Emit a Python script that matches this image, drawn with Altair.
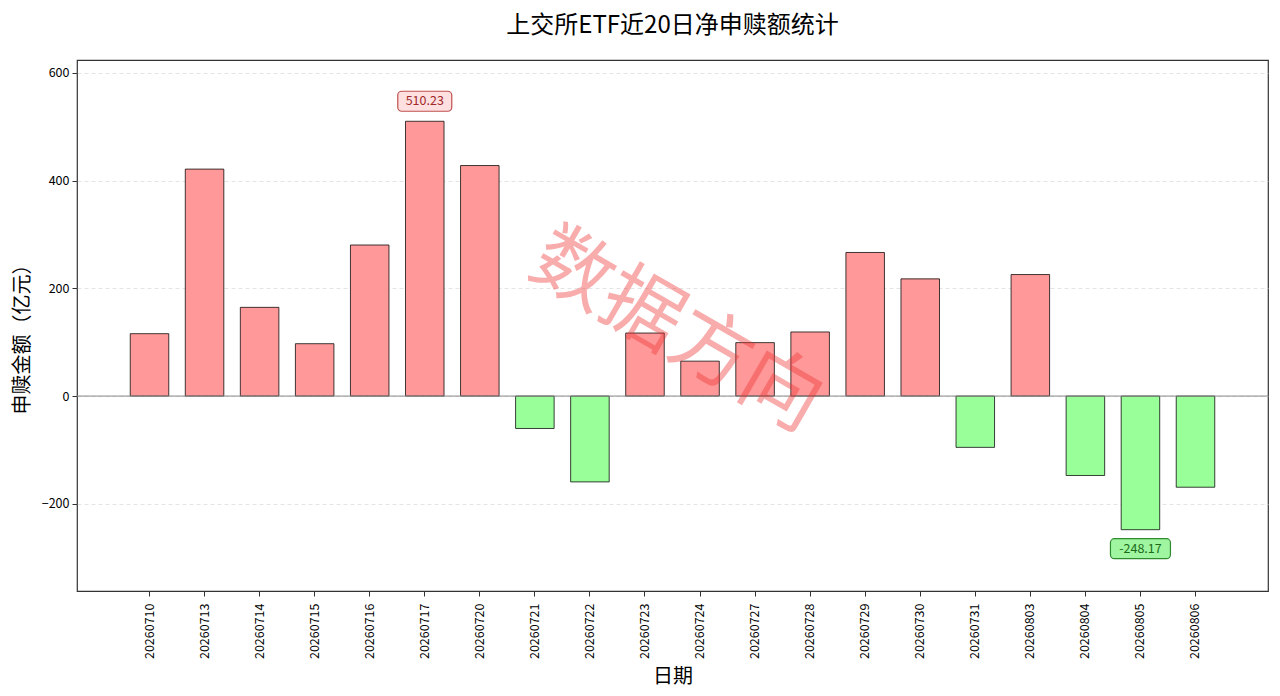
import altair as alt
import pandas as pd

dates = ["20260710", "20260713", "20260714", "20260715", "20260716", "20260717",
         "20260720", "20260721", "20260722", "20260723", "20260724", "20260727",
         "20260728", "20260729", "20260730", "20260731", "20260803", "20260804",
         "20260805", "20260806"]
values = [115.8, 421.4, 164.7, 97.2, 280.5, 510.23, 428.0, -60.2, -159.4, 117.0,
          64.8, 99.2, 119.0, 266.6, 217.6, -95.3, 225.6, -147.5, -248.17, -169.3]

df = pd.DataFrame({"date": dates, "value": values})
vmax = max(values)
vmin = min(values)
ann_max = df[df["value"] == vmax].assign(label=lambda d: d["value"].map(lambda v: f"{v:.2f}"))
ann_min = df[df["value"] == vmin].assign(label=lambda d: d["value"].map(lambda v: f"{v:.2f}"))

FONT = "Noto Sans CJK SC"

x_enc = alt.X("date:N", sort=dates, title="日期",
              scale=alt.Scale(paddingInner=0.3, paddingOuter=0.967),
              axis=alt.Axis(labelAngle=270, labelFontSize=12.5, labelColor="#000",
                            titleFontSize=20, titleFontWeight="normal", titleColor="#000",
                            titlePadding=8, tickColor="#333", tickSize=5, grid=False,
                            domain=False, labelPadding=7))
y_scale = alt.Scale(domain=[-362, 624], nice=False, zero=False)
y_enc = alt.Y("value:Q", scale=y_scale, title="申赎金额（亿元）",
              axis=alt.Axis(values=[-200, 0, 200, 400, 600], labelFontSize=12.5,
                            labelColor="#000", titleFontSize=20, titleFontWeight="normal",
                            titleColor="#000", titleX=-45, titleY=274, titleAlign="center",
                            titleBaseline="bottom", tickColor="#333", tickSize=5,
                            grid=True, gridDash=[4, 3], gridColor="#dddddd",
                            gridWidth=0.8, domain=False, labelPadding=3))

bars = alt.Chart(df).mark_bar(stroke="#000", strokeOpacity=0.75, strokeWidth=1).encode(
    x=x_enc,
    y=y_enc,
    color=alt.condition("datum.value >= 0", alt.value("#ff9999"), alt.value("#99ff99")),
)

zero = alt.Chart(pd.DataFrame({"z": [0]})).mark_rule(color="#888888", strokeWidth=1).encode(
    y=alt.Y("z:Q", scale=y_scale)
)

box_max = alt.Chart(ann_max).mark_bar(
    width=54, cornerRadius=4, yOffset=-30, y2Offset=-10,
    fill="#ffe0e0", stroke="#c05050", strokeWidth=1.2
).encode(x=alt.X("date:N", sort=dates), y=alt.Y("value:Q", scale=y_scale), y2="value:Q")

text_max = alt.Chart(ann_max).mark_text(
    dy=-20, fontSize=12.5, color="#a02828", font=FONT
).encode(x=alt.X("date:N", sort=dates), y=alt.Y("value:Q", scale=y_scale), text="label:N")

box_min = alt.Chart(ann_min).mark_bar(
    width=60, cornerRadius=4, yOffset=9, y2Offset=29,
    fill="#a0f5a0", stroke="#2e8b2e", strokeWidth=1.2
).encode(x=alt.X("date:N", sort=dates), y=alt.Y("value:Q", scale=y_scale), y2="value:Q")

text_min = alt.Chart(ann_min).mark_text(
    dy=19, fontSize=12.5, color="#1a6b1a", font=FONT
).encode(x=alt.X("date:N", sort=dates), y=alt.Y("value:Q", scale=y_scale), text="label:N")

watermark = alt.Chart(pd.DataFrame({"t": ["数据方向"]})).mark_text(
    angle=30, fontSize=80, color="#ee3333", opacity=0.4, font=FONT
).encode(x=alt.value(599), y=alt.value(272), text="t:N")

chart = alt.layer(bars, zero, box_max, text_max, box_min, text_min, watermark).properties(
    width=1191, height=531,
    title=alt.TitleParams("上交所ETF近20日净申赎额统计", fontSize=24, fontWeight="normal",
                          color="#000", font=FONT, offset=22),
    autosize=alt.AutoSizeParams(type="none"),
    padding={"left": 69, "top": 52, "right": 4, "bottom": 97},
).configure(font=FONT).configure_view(stroke="#333333", strokeWidth=1.2)

chart.save("out.html", embed_options={"renderer": "svg", "actions": False})
